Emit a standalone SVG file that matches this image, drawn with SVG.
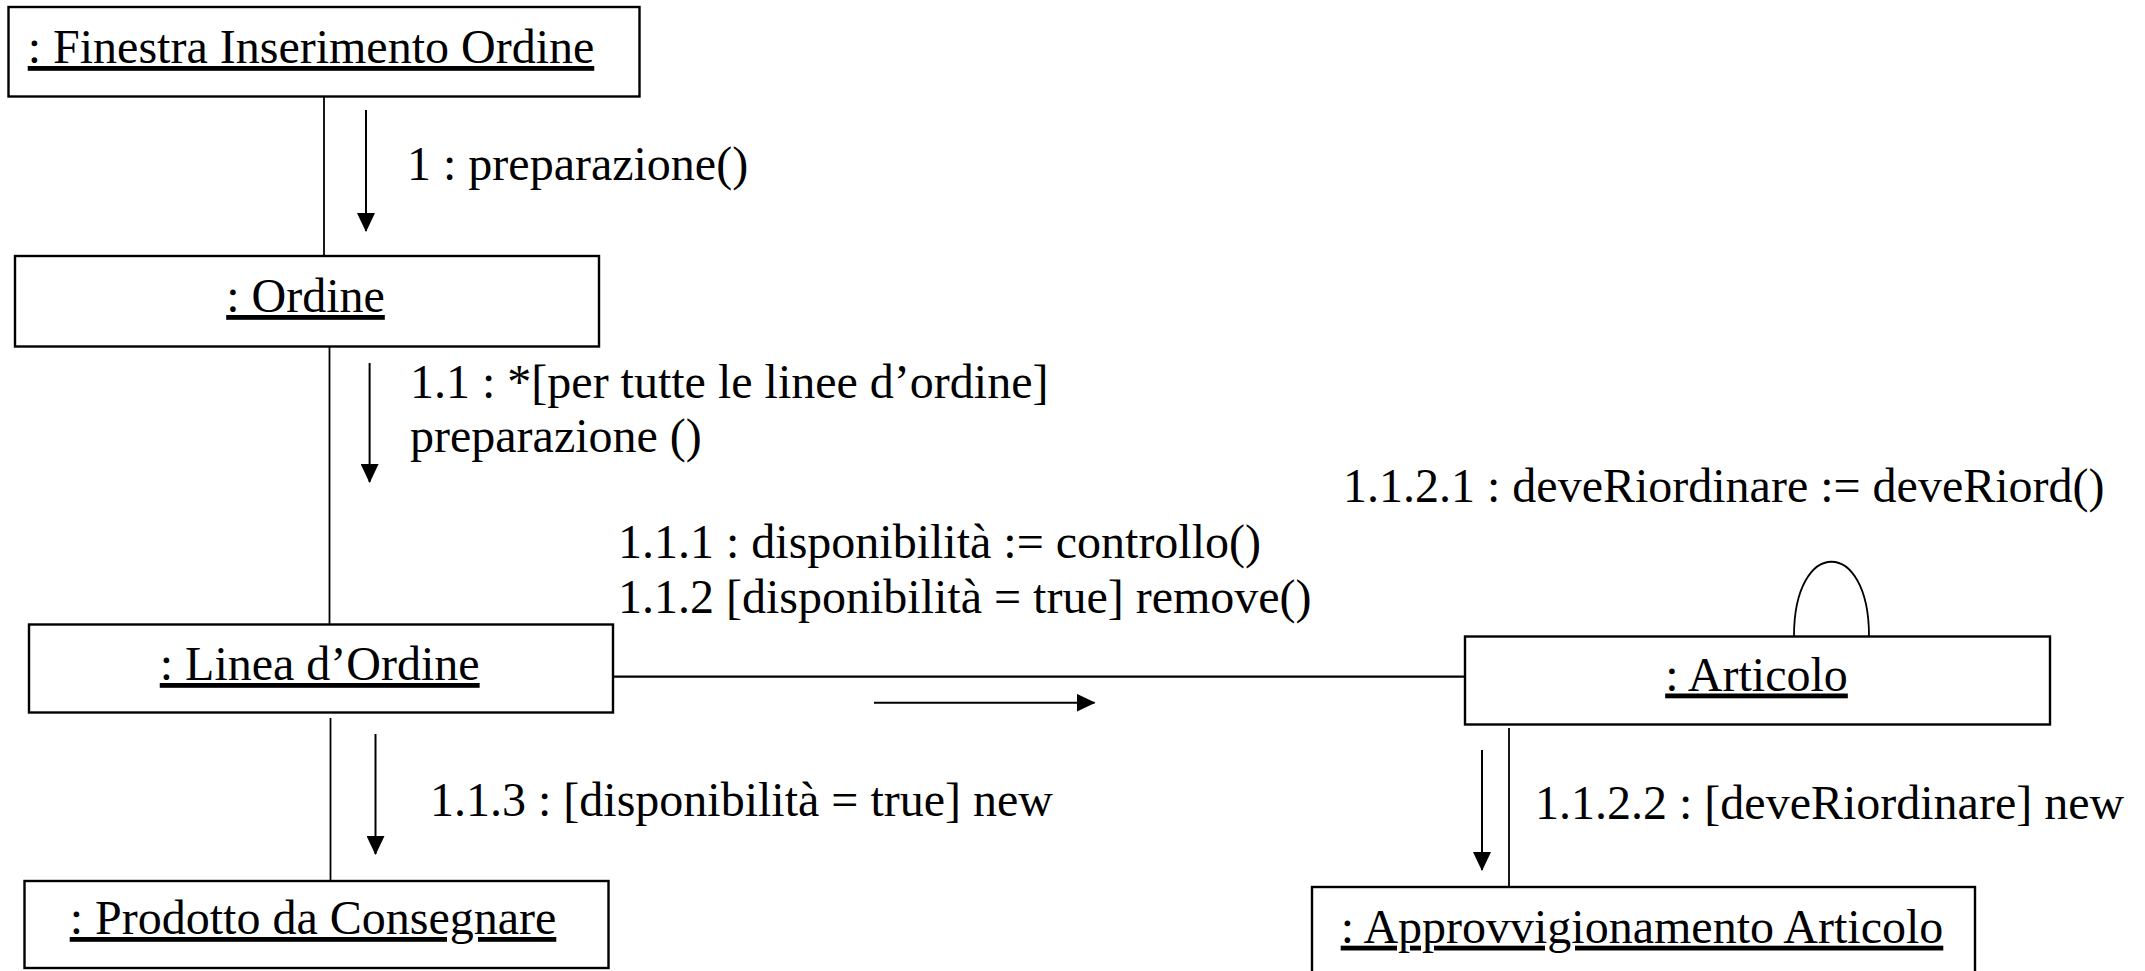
<svg xmlns="http://www.w3.org/2000/svg" width="2145" height="971" viewBox="0 0 2145 971">
<style>
  .box{fill:#fff;stroke:#000;stroke-width:2.4}
  .nt{font-family:"Liberation Serif","Times New Roman",serif;font-size:48px;fill:#000;text-anchor:middle;text-decoration:underline}
  .lb{font-family:"Liberation Serif","Times New Roman",serif;font-size:48px;fill:#000}
  .ln{fill:none;stroke:#000;stroke-width:1.8}
  .msg{fill:none;stroke:#000;stroke-width:2;marker-end:url(#ah)}
</style>
<defs>
  <marker id="ah" viewBox="0 0 19 18" refX="18" refY="9" markerWidth="19" markerHeight="18" markerUnits="userSpaceOnUse" orient="auto">
    <path d="M0,0 L19,9 L0,18 Z" fill="#000"/>
  </marker>
</defs>
<rect width="2145" height="971" fill="#fff"/>
<g id="connectors">
  <line class="ln" x1="324" y1="97" x2="324" y2="256"/>
  <line class="ln" x1="329.5" y1="347" x2="329.5" y2="624"/>
  <line class="ln" x1="330.5" y1="718" x2="330.5" y2="881"/>
  <line class="ln" style="stroke-width:2.2" x1="614" y1="676.7" x2="1466" y2="676.7"/>
  <line class="ln" x1="1509" y1="728" x2="1509" y2="888"/>
  <path class="ln" d="M1794,636 C1794,537 1869,537 1869,636"/>
  <line class="msg" x1="366" y1="110" x2="366" y2="231"/>
  <line class="msg" x1="369.6" y1="363" x2="369.6" y2="482"/>
  <line class="msg" x1="375.5" y1="734" x2="375.5" y2="854"/>
  <line class="msg" x1="1482" y1="750" x2="1482" y2="870"/>
  <line class="msg" x1="874" y1="702.7" x2="1094.5" y2="702.7"/>
  <text class="lb" x="407" y="180">1 : preparazione()</text>
  <text class="lb" x="410" y="398">1.1 : *[per tutte le linee d’ordine]</text>
  <text class="lb" x="410" y="452">preparazione ()</text>
  <text class="lb" x="618" y="558">1.1.1 : disponibilità := controllo()</text>
  <text class="lb" x="618" y="613">1.1.2 [disponibilità = true] remove()</text>
  <text class="lb" x="1343" y="502">1.1.2.1 : deveRiordinare := deveRiord()</text>
  <text class="lb" x="430" y="816">1.1.3 : [disponibilità = true] new</text>
  <text class="lb" x="1535" y="819">1.1.2.2 : [deveRiordinare] new</text>
</g>
<g id="finestra">
  <rect class="box" x="8.5" y="7" width="631" height="89.5"/>
  <text class="nt" x="311" y="63">: Finestra Inserimento Ordine</text>
</g>
<g id="ordine">
  <rect class="box" x="15" y="256" width="584" height="90.5"/>
  <text class="nt" x="305.5" y="312">: Ordine</text>
</g>
<g id="linea">
  <rect class="box" x="29" y="624.5" width="584" height="88"/>
  <text class="nt" x="319.7" y="680">: Linea d’Ordine</text>
</g>
<g id="articolo">
  <rect class="box" x="1465" y="636.5" width="585" height="88"/>
  <text class="nt" x="1756.5" y="690.5">: Articolo</text>
</g>
<g id="prodotto">
  <rect class="box" x="24.5" y="881" width="584" height="87"/>
  <text class="nt" x="313" y="934">: Prodotto da Consegnare</text>
</g>
<g id="approvvigionamento">
  <rect class="box" x="1312" y="887" width="663" height="100"/>
  <text class="nt" x="1642" y="942.7">: Approvvigionamento Articolo</text>
</g>
</svg>
